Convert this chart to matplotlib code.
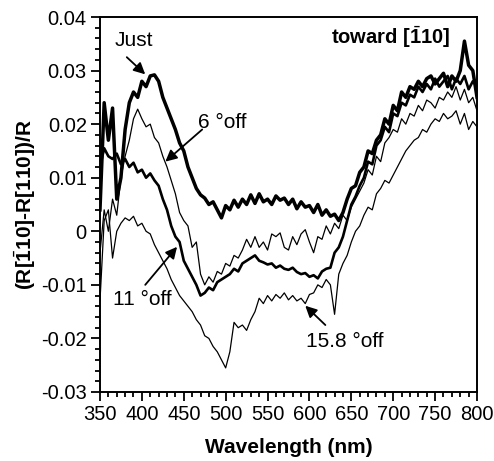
"""
Anisotropy spectra (R[-110]-R[110])/R for vicinal surfaces toward [-110].
"""

import numpy as np
import matplotlib
matplotlib.use('Agg')
import matplotlib.pyplot as plt
from matplotlib.ticker import MultipleLocator, FixedLocator, FixedFormatter

plt.rcParams['font.family'] = ['Liberation Sans', 'DejaVu Sans']
plt.rcParams['mathtext.fontset'] = 'custom'
plt.rcParams['mathtext.rm'] = 'Liberation Sans'
plt.rcParams['mathtext.bf'] = 'Liberation Sans:bold'
plt.rcParams['axes.unicode_minus'] = False

# =============================================================================
# Data (5 nm steps)
# =============================================================================
wavelength = np.arange(350, 805, 5)

just = [
    0.0040, 0.0240, 0.0170, 0.0230, 0.0060, 0.0100, 0.0190, 0.0240, 0.0260, 0.0250,
    0.0280, 0.0270, 0.0290, 0.0292, 0.0280, 0.0250, 0.0230, 0.0210, 0.0190, 0.0165,
    0.0150, 0.0120, 0.0100, 0.0080, 0.0068, 0.0062, 0.0050, 0.0055, 0.0040, 0.0025,
    0.0048, 0.0040, 0.0058, 0.0045, 0.0060, 0.0050, 0.0068, 0.0052, 0.0070, 0.0055,
    0.0060, 0.0050, 0.0066, 0.0058, 0.0062, 0.0050, 0.0060, 0.0042, 0.0055, 0.0045,
    0.0048, 0.0035, 0.0050, 0.0030, 0.0040, 0.0028, 0.0032, 0.0020, 0.0035, 0.0060,
    0.0080, 0.0085, 0.0110, 0.0120, 0.0150, 0.0145, 0.0170, 0.0180, 0.0210, 0.0200,
    0.0235, 0.0225, 0.0260, 0.0250, 0.0270, 0.0265, 0.0280, 0.0270, 0.0285, 0.0290,
    0.0275, 0.0285, 0.0295, 0.0270, 0.0290, 0.0280, 0.0300, 0.0355, 0.0310, 0.0300,
    0.0250,
]

off6 = [
    -0.0040, 0.0040, 0.0000, 0.0060, 0.0030, 0.0100, 0.0140, 0.0170, 0.0210, 0.0228,
    0.0210, 0.0195, 0.0200, 0.0175, 0.0165, 0.0140, 0.0120, 0.0095, 0.0070, 0.0035,
    0.0020, 0.0010, -0.0030, -0.0020, -0.0080, -0.0100, -0.0085, -0.0095, -0.0075, -0.0080,
    -0.0060, -0.0065, -0.0045, -0.0050, -0.0035, -0.0015, -0.0030, -0.0010, -0.0030, -0.0020,
    -0.0035, -0.0005, -0.0010, -0.0003, -0.0030, -0.0035, -0.0010, -0.0025, -0.0005, 0.0003,
    -0.0020, -0.0040, -0.0010, -0.0015, 0.0010, -0.0005, 0.0015, 0.0005, 0.0030, 0.0020,
    0.0045, 0.0060, 0.0075, 0.0090, 0.0115, 0.0105, 0.0140, 0.0130, 0.0165, 0.0175,
    0.0190, 0.0185, 0.0210, 0.0200, 0.0220, 0.0215, 0.0235, 0.0225, 0.0245, 0.0240,
    0.0230, 0.0250, 0.0245, 0.0260, 0.0250, 0.0270, 0.0245, 0.0265, 0.0240, 0.0250,
    0.0225,
]

off11 = [
    0.0120, 0.0155, 0.0140, 0.0135, 0.0145, 0.0125, 0.0135, 0.0120, 0.0128, 0.0110,
    0.0115, 0.0100, 0.0108, 0.0095, 0.0085, 0.0060, 0.0040, 0.0010, -0.0010, -0.0020,
    -0.0055, -0.0070, -0.0085, -0.0100, -0.0120, -0.0115, -0.0105, -0.0110, -0.0095, -0.0090,
    -0.0085, -0.0080, -0.0070, -0.0075, -0.0060, -0.0055, -0.0050, -0.0045, -0.0055, -0.0058,
    -0.0062, -0.0060, -0.0068, -0.0064, -0.0070, -0.0072, -0.0068, -0.0076, -0.0080, -0.0078,
    -0.0085, -0.0082, -0.0088, -0.0075, -0.0070, -0.0068, -0.0040, -0.0030, -0.0010, 0.0020,
    0.0050, 0.0065, 0.0085, 0.0100, 0.0130, 0.0125, 0.0160, 0.0170, 0.0195, 0.0185,
    0.0220, 0.0215, 0.0240, 0.0235, 0.0255, 0.0250, 0.0270, 0.0260, 0.0275, 0.0265,
    0.0285, 0.0270, 0.0280, 0.0290, 0.0265, 0.0285, 0.0275, 0.0290, 0.0265, 0.0280,
    0.0270,
]

off158 = [
    -0.0130, 0.0020, 0.0040, -0.0050, 0.0000, 0.0015, 0.0025, 0.0020, 0.0028, 0.0010,
    0.0015, 0.0000, -0.0005, -0.0025, -0.0040, -0.0055, -0.0070, -0.0090, -0.0105, -0.0120,
    -0.0130, -0.0140, -0.0150, -0.0165, -0.0175, -0.0195, -0.0200, -0.0215, -0.0225, -0.0240,
    -0.0255, -0.0225, -0.0170, -0.0180, -0.0175, -0.0185, -0.0165, -0.0150, -0.0125, -0.0135,
    -0.0120, -0.0130, -0.0118, -0.0125, -0.0115, -0.0128, -0.0120, -0.0130, -0.0125, -0.0135,
    -0.0118, -0.0115, -0.0100, -0.0105, -0.0090, -0.0100, -0.0155, -0.0080, -0.0060, -0.0045,
    -0.0020, 0.0000, 0.0010, 0.0030, 0.0045, 0.0040, 0.0070, 0.0080, 0.0095, 0.0090,
    0.0105, 0.0120, 0.0135, 0.0150, 0.0160, 0.0170, 0.0175, 0.0190, 0.0185, 0.0200,
    0.0210, 0.0205, 0.0220, 0.0210, 0.0215, 0.0225, 0.0200, 0.0220, 0.0190, 0.0205,
    0.0195,
]

y_ticks = [-0.03, -0.02, -0.01, 0.0, 0.01, 0.02, 0.03, 0.04]
y_tick_labels = ['-0.03', '-0.02', '-0.01', '0', '0.01', '0.02', '0.03', '0.04']

# =============================================================================
# Plot
# =============================================================================
fig = plt.figure(figsize=(4.94, 4.61), dpi=100)
ax = fig.add_axes([0.2024, 0.1497, 0.7632, 0.8134])

ax.plot(wavelength, off158, color='k', lw=0.9)
ax.plot(wavelength, off6, color='k', lw=0.9)
ax.plot(wavelength, off11, color='k', lw=1.9)
ax.plot(wavelength, just, color='k', lw=2.5)

ax.set_xlim(350, 800)
ax.set_ylim(-0.03, 0.04)
ax.xaxis.set_major_locator(MultipleLocator(50))
ax.xaxis.set_minor_locator(MultipleLocator(10))
ax.yaxis.set_major_locator(FixedLocator(y_ticks))
ax.yaxis.set_major_formatter(FixedFormatter(y_tick_labels))
ax.yaxis.set_minor_locator(MultipleLocator(0.002))

for side in ax.spines.values():
    side.set_linewidth(1.4)
ax.tick_params(which='both', direction='out', top=False, right=False,
               width=1.3, labelsize=14.5)
ax.tick_params(which='major', length=6.5, pad=3)
ax.tick_params(which='minor', length=3.5)

ax.set_xlabel('Wavelength (nm)', fontsize=15, fontweight='bold', labelpad=10)
ax.set_ylabel(r'(R[$\bar{\mathbf{1}}$10]-R[110])/R', fontsize=15,
              fontweight='bold', labelpad=2)

ax.text(768, 0.0362, r'toward [$\bar{\mathbf{1}}$10]', fontsize=14.5,
        fontweight='bold', ha='right', va='center')

# curve labels with arrows
arrow = dict(arrowstyle='-|>', color='k', lw=1.3, mutation_scale=17,
             shrinkA=0, shrinkB=0)
ax.text(391, 0.0357, 'Just', fontsize=15, ha='center', va='center')
ax.annotate('', xy=(404, 0.0293), xytext=(382, 0.0325), arrowprops=arrow)
ax.text(467, 0.0203, '6 °off', fontsize=15, ha='left', va='center')
ax.annotate('', xy=(428, 0.0130), xytext=(472, 0.0190), arrowprops=arrow)
ax.text(400, -0.0128, '11 °off', fontsize=15, ha='center', va='center')
ax.annotate('', xy=(442, -0.0029), xytext=(404, -0.0100), arrowprops=arrow)
ax.text(642, -0.0206, '15.8 °off', fontsize=15, ha='center', va='center')
ax.annotate('', xy=(595, -0.0139), xytext=(619, -0.0175), arrowprops=arrow)

plt.savefig('out.png', dpi=100)
